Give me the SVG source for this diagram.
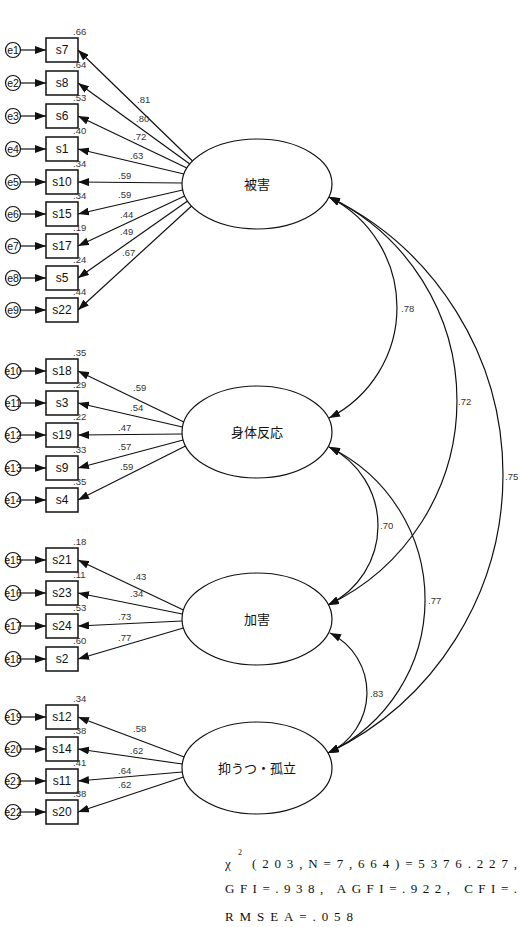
<svg xmlns="http://www.w3.org/2000/svg" width="520" height="927" viewBox="0 0 520 927">
<style>
.box{fill:#fff;stroke:#111;stroke-width:1.5}
.ec{fill:#fff;stroke:#111;stroke-width:1.2}
.el{fill:#fff;stroke:#111;stroke-width:1.2}
.bt{font-family:"Liberation Sans",Arial,sans-serif;font-size:12px;text-anchor:middle;fill:#111}
.et{font-family:"Liberation Sans",Arial,sans-serif;font-size:10.5px;text-anchor:middle;fill:#111}
.sm{font-family:"Liberation Sans",Arial,sans-serif;font-size:9.5px;fill:#333}
.ft{font-family:"Noto Sans CJK JP",sans-serif;font-size:13px;text-anchor:middle;fill:#111}
.ln{fill:none;stroke:#111;stroke-width:1.2;marker-end:url(#ah)}
.arc{fill:none;stroke:#111;stroke-width:1.2;marker-start:url(#ah2);marker-end:url(#ah2)}
.fit{font-family:"Liberation Serif","Times New Roman",serif;font-size:13px;fill:#111}
</style>
<defs>
<marker id="ah" viewBox="0 0 11 8" refX="11" refY="4" markerWidth="11" markerHeight="8" markerUnits="userSpaceOnUse" orient="auto"><path d="M0,0 L11,4 L0,8 z" fill="#111"/></marker>
<marker id="ah2" viewBox="0 0 11 8" refX="11" refY="4" markerWidth="11" markerHeight="8" markerUnits="userSpaceOnUse" orient="auto-start-reverse"><path d="M0,0 L11,4 L0,8 z" fill="#111"/></marker>
</defs>

<g id="connectors">
<path class="ln" d="M21,50 H46"/><path class="ln" d="M21,83 H46"/><path class="ln" d="M21,116 H46"/><path class="ln" d="M21,149 H46"/><path class="ln" d="M21,182 H46"/><path class="ln" d="M21,214 H46"/><path class="ln" d="M21,246 H46"/><path class="ln" d="M21,278 H46"/><path class="ln" d="M21,310 H46"/>
<path class="ln" d="M21,371 H46"/><path class="ln" d="M21,403 H46"/><path class="ln" d="M21,435 H46"/><path class="ln" d="M21,468 H46"/><path class="ln" d="M21,500 H46"/>
<path class="ln" d="M21,560 H46"/><path class="ln" d="M21,593 H46"/><path class="ln" d="M21,626 H46"/><path class="ln" d="M21,659 H46"/>
<path class="ln" d="M21,717 H46"/><path class="ln" d="M21,749 H46"/><path class="ln" d="M21,781 H46"/><path class="ln" d="M21,812 H46"/>
<path class="ln" d="M192.5,161 L78,50"/><path class="ln" d="M189.8,164 L78,83"/><path class="ln" d="M186.9,168 L78,116"/><path class="ln" d="M183.9,174 L78,149"/><path class="ln" d="M182,183 L78,182"/><path class="ln" d="M182.7,190 L78,214"/><path class="ln" d="M184.7,196 L78,246"/><path class="ln" d="M187.6,201 L78,278"/><path class="ln" d="M191.6,206 L78,310"/>
<path class="ln" d="M183.8,422 L78,371"/><path class="ln" d="M182.4,427 L78,403"/><path class="ln" d="M182.1,434 L78,435"/><path class="ln" d="M183.1,440 L78,468"/><path class="ln" d="M185.5,446 L78,500"/>
<path class="ln" d="M183.4,610 L78,560"/><path class="ln" d="M182.3,614 L78,593"/><path class="ln" d="M182,621 L78,626"/><path class="ln" d="M183.4,628 L78,659"/>
<path class="ln" d="M184.2,757 L78,717"/><path class="ln" d="M182.3,764 L78,749"/><path class="ln" d="M182.3,772 L78,781"/><path class="ln" d="M183.4,777 L78,812"/>
<path class="arc" d="M329,197 A123.8,123.8 0 0,1 329,418"/>
<path class="arc" d="M329,197 A226.2,226.2 0 0,1 328,605"/>
<path class="arc" d="M329,197 A308.7,308.7 0 0,1 328,753"/>
<path class="arc" d="M329,447 A87.8,87.8 0 0,1 328,605"/>
<path class="arc" d="M329,447 A169.5,169.5 0 0,1 328,753"/>
<path class="arc" d="M330,633 A66.4,66.4 0 0,1 328,753"/>
<text class="sm" x="137" y="103">.81</text><text class="sm" x="136" y="122">.80</text><text class="sm" x="133" y="140">.72</text><text class="sm" x="130" y="159">.63</text><text class="sm" x="118" y="179">.59</text><text class="sm" x="118" y="198">.59</text><text class="sm" x="120" y="218">.44</text><text class="sm" x="120" y="235">.49</text><text class="sm" x="122" y="256">.67</text>
<text class="sm" x="133" y="391">.59</text><text class="sm" x="130" y="411">.54</text><text class="sm" x="118" y="431">.47</text><text class="sm" x="118" y="450">.57</text><text class="sm" x="120" y="470">.59</text>
<text class="sm" x="133" y="580">.43</text><text class="sm" x="130" y="597">.34</text><text class="sm" x="118" y="620">.73</text><text class="sm" x="118" y="641">.77</text>
<text class="sm" x="133" y="732">.58</text><text class="sm" x="130" y="754">.62</text><text class="sm" x="118" y="774">.64</text><text class="sm" x="118" y="788">.62</text>
<text class="sm" x="401" y="312">.78</text><text class="sm" x="458" y="405">.72</text><text class="sm" x="505" y="480">.75</text><text class="sm" x="380" y="529">.70</text><text class="sm" x="428" y="604">.77</text><text class="sm" x="370" y="697">.83</text>
</g>

<g id="F1"><ellipse class="el" cx="257" cy="184" rx="75" ry="45"/><text class="ft" x="257" y="189">被害</text></g>
<g id="F2"><ellipse class="el" cx="257" cy="432" rx="75" ry="46"/><text class="ft" x="257" y="437">身体反応</text></g>
<g id="F3"><ellipse class="el" cx="257" cy="619" rx="75" ry="46"/><text class="ft" x="257" y="624">加害</text></g>
<g id="F4"><ellipse class="el" cx="257" cy="768" rx="75" ry="46"/><text class="ft" x="257" y="773">抑うつ・孤立</text></g>

<g id="s7"><rect class="box" x="46" y="38" width="32" height="24"/><text class="bt" x="62" y="54">s7</text><text class="sm" x="73" y="35">.66</text></g>
<g id="s8"><rect class="box" x="46" y="71" width="32" height="24"/><text class="bt" x="62" y="87">s8</text><text class="sm" x="73" y="68">.64</text></g>
<g id="s6"><rect class="box" x="46" y="104" width="32" height="24"/><text class="bt" x="62" y="120">s6</text><text class="sm" x="73" y="101">.53</text></g>
<g id="s1"><rect class="box" x="46" y="137" width="32" height="24"/><text class="bt" x="62" y="153">s1</text><text class="sm" x="73" y="134">.40</text></g>
<g id="s10"><rect class="box" x="46" y="170" width="32" height="24"/><text class="bt" x="62" y="186">s10</text><text class="sm" x="73" y="167">.34</text></g>
<g id="s15"><rect class="box" x="46" y="202" width="32" height="24"/><text class="bt" x="62" y="218">s15</text><text class="sm" x="73" y="199">.34</text></g>
<g id="s17"><rect class="box" x="46" y="234" width="32" height="24"/><text class="bt" x="62" y="250">s17</text><text class="sm" x="73" y="231">.19</text></g>
<g id="s5"><rect class="box" x="46" y="266" width="32" height="24"/><text class="bt" x="62" y="282">s5</text><text class="sm" x="73" y="263">.24</text></g>
<g id="s22"><rect class="box" x="46" y="298" width="32" height="24"/><text class="bt" x="62" y="314">s22</text><text class="sm" x="73" y="295">.44</text></g>

<g id="s18"><rect class="box" x="46" y="359" width="32" height="24"/><text class="bt" x="62" y="375">s18</text><text class="sm" x="73" y="356">.35</text></g>
<g id="s3"><rect class="box" x="46" y="391" width="32" height="24"/><text class="bt" x="62" y="407">s3</text><text class="sm" x="73" y="388">.29</text></g>
<g id="s19"><rect class="box" x="46" y="423" width="32" height="24"/><text class="bt" x="62" y="439">s19</text><text class="sm" x="73" y="420">.22</text></g>
<g id="s9"><rect class="box" x="46" y="456" width="32" height="24"/><text class="bt" x="62" y="472">s9</text><text class="sm" x="73" y="453">.33</text></g>
<g id="s4"><rect class="box" x="46" y="488" width="32" height="24"/><text class="bt" x="62" y="504">s4</text><text class="sm" x="73" y="485">.35</text></g>

<g id="s21"><rect class="box" x="46" y="548" width="32" height="24"/><text class="bt" x="62" y="564">s21</text><text class="sm" x="73" y="545">.18</text></g>
<g id="s23"><rect class="box" x="46" y="581" width="32" height="24"/><text class="bt" x="62" y="597">s23</text><text class="sm" x="73" y="578">.11</text></g>
<g id="s24"><rect class="box" x="46" y="614" width="32" height="24"/><text class="bt" x="62" y="630">s24</text><text class="sm" x="73" y="611">.53</text></g>
<g id="s2"><rect class="box" x="46" y="647" width="32" height="24"/><text class="bt" x="62" y="663">s2</text><text class="sm" x="73" y="644">.60</text></g>

<g id="s12"><rect class="box" x="46" y="705" width="32" height="24"/><text class="bt" x="62" y="721">s12</text><text class="sm" x="73" y="702">.34</text></g>
<g id="s14"><rect class="box" x="46" y="737" width="32" height="24"/><text class="bt" x="62" y="753">s14</text><text class="sm" x="73" y="734">.38</text></g>
<g id="s11"><rect class="box" x="46" y="769" width="32" height="24"/><text class="bt" x="62" y="785">s11</text><text class="sm" x="73" y="766">.41</text></g>
<g id="s20"><rect class="box" x="46" y="800" width="32" height="24"/><text class="bt" x="62" y="816">s20</text><text class="sm" x="73" y="797">.38</text></g>

<g id="e1"><circle class="ec" cx="13" cy="50" r="7.5"/><text class="et" x="13" y="53.5">e1</text></g>
<g id="e2"><circle class="ec" cx="13" cy="83" r="7.5"/><text class="et" x="13" y="86.5">e2</text></g>
<g id="e3"><circle class="ec" cx="13" cy="116" r="7.5"/><text class="et" x="13" y="119.5">e3</text></g>
<g id="e4"><circle class="ec" cx="13" cy="149" r="7.5"/><text class="et" x="13" y="152.5">e4</text></g>
<g id="e5"><circle class="ec" cx="13" cy="182" r="7.5"/><text class="et" x="13" y="185.5">e5</text></g>
<g id="e6"><circle class="ec" cx="13" cy="214" r="7.5"/><text class="et" x="13" y="217.5">e6</text></g>
<g id="e7"><circle class="ec" cx="13" cy="246" r="7.5"/><text class="et" x="13" y="249.5">e7</text></g>
<g id="e8"><circle class="ec" cx="13" cy="278" r="7.5"/><text class="et" x="13" y="281.5">e8</text></g>
<g id="e9"><circle class="ec" cx="13" cy="310" r="7.5"/><text class="et" x="13" y="313.5">e9</text></g>
<g id="e10"><circle class="ec" cx="13" cy="371" r="7.5"/><text class="et" x="13" y="374.5">e10</text></g>
<g id="e11"><circle class="ec" cx="13" cy="403" r="7.5"/><text class="et" x="13" y="406.5">e11</text></g>
<g id="e12"><circle class="ec" cx="13" cy="435" r="7.5"/><text class="et" x="13" y="438.5">e12</text></g>
<g id="e13"><circle class="ec" cx="13" cy="468" r="7.5"/><text class="et" x="13" y="471.5">e13</text></g>
<g id="e14"><circle class="ec" cx="13" cy="500" r="7.5"/><text class="et" x="13" y="503.5">e14</text></g>
<g id="e15"><circle class="ec" cx="13" cy="560" r="7.5"/><text class="et" x="13" y="563.5">e15</text></g>
<g id="e16"><circle class="ec" cx="13" cy="593" r="7.5"/><text class="et" x="13" y="596.5">e16</text></g>
<g id="e17"><circle class="ec" cx="13" cy="626" r="7.5"/><text class="et" x="13" y="629.5">e17</text></g>
<g id="e18"><circle class="ec" cx="13" cy="659" r="7.5"/><text class="et" x="13" y="662.5">e18</text></g>
<g id="e19"><circle class="ec" cx="13" cy="717" r="7.5"/><text class="et" x="13" y="720.5">e19</text></g>
<g id="e20"><circle class="ec" cx="13" cy="749" r="7.5"/><text class="et" x="13" y="752.5">e20</text></g>
<g id="e21"><circle class="ec" cx="13" cy="781" r="7.5"/><text class="et" x="13" y="784.5">e21</text></g>
<g id="e22"><circle class="ec" cx="13" cy="812" r="7.5"/><text class="et" x="13" y="815.5">e22</text></g>

<g id="fit">
<text class="fit" x="225" y="868">χ</text>
<text class="fit" x="238" y="855" style="font-size:8px">2</text>
<text class="fit" x="252" y="868" textLength="265" lengthAdjust="spacing">(203,N=7,664)=5376.227,</text>
<text class="fit" x="225" y="893" textLength="292" lengthAdjust="spacing">GFI=.938, AGFI=.922, CFI=.</text>
<text class="fit" x="225" y="921" textLength="128" lengthAdjust="spacing">RMSEA=.058</text>
</g>
</svg>
